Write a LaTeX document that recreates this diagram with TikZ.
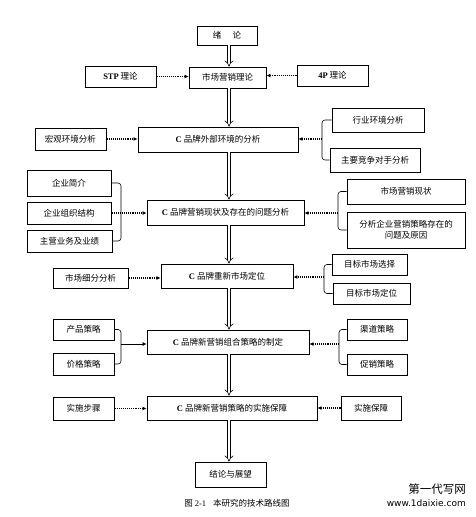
\documentclass[tikz,border=0pt]{standalone}
\usepackage{fontspec}
\setmainfont{Liberation Serif}
\newfontfamily\cjk{Noto Sans CJK SC}
\newfontfamily\wmfont{DejaVu Sans}
\usetikzlibrary{arrows.meta,calc}
\newcommand{\lat}[1]{{\rmfamily\bfseries #1}}
\begin{document}
\begin{tikzpicture}[x=1pt,y=-1pt,
 box/.style={draw, line width=0.9pt, font=\cjk\fontsize{8.5}{11}\selectfont, inner sep=1pt, align=center},
 dbl/.style={double, double distance=2.6pt, line width=0.6pt, -{Implies}},
 dotarr/.style={line width=1.1pt, densely dotted, -{Latex[length=4pt,width=4pt]}},
 brk/.style={line width=0.6pt, rounded corners=3pt},
 solarr/.style={line width=0.6pt, -{Latex[length=4pt,width=4pt]}}]
\useasboundingbox (0,0) rectangle (476,517);
\fill[white] (0,0) rectangle (476,517);

\node[box, minimum width=60, minimum height=19] (xu) at (227,35.5) {绪\hspace{1.3em}论};
\node[box, minimum width=71, minimum height=21] (stp) at (120.5,76.5) {\lat{STP} 理论};
\node[box, minimum width=77, minimum height=21] (sc) at (227.5,77.5) {市场营销理论};
\node[box, minimum width=71, minimum height=21] (fp) at (332.5,75.5) {\lat{4P} 理论};
\node[box, minimum width=92, minimum height=24] (hy) at (378,120) {行业环境分析};
\node[box, minimum width=71, minimum height=22] (hg) at (70.5,139) {宏观环境分析};
\node[box, minimum width=160, minimum height=25] (wb) at (218,139.5) {\lat{C} 品牌外部环境的分析};
\node[box, minimum width=90, minimum height=24] (jz) at (375,160) {主要竞争对手分析};
\node[box, minimum width=84, minimum height=26] (qyjj) at (69,183) {企业简介};
\node[box, minimum width=84, minimum height=22] (zzjg) at (69,213) {企业组织结构};
\node[box, minimum width=85, minimum height=22] (zy) at (69.5,241) {主营业务及业绩};
\node[box, minimum width=157, minimum height=25] (xz) at (225.5,212.5) {\lat{C} 品牌营销现状及存在的问题分析};
\node[box, minimum width=118, minimum height=25] (scxz) at (406,191.5) {市场营销现状};
\node[box, minimum width=118, minimum height=36] (fx) at (406,230) {分析企业营销策略存在的\\问题及原因};
\node[box, minimum width=75, minimum height=20] (xf) at (90.5,278) {市场细分分析};
\node[box, minimum width=132, minimum height=24] (dw) at (227,276) {\lat{C} 品牌重新市场定位};
\node[box, minimum width=75, minimum height=21] (mbxz) at (369.5,264.5) {目标市场选择};
\node[box, minimum width=77, minimum height=21] (mbdw) at (371.5,293.5) {目标市场定位};
\node[box, minimum width=61, minimum height=21] (cp) at (83.5,329.5) {产品策略};
\node[box, minimum width=61, minimum height=22] (jg) at (83.5,364) {价格策略};
\node[box, minimum width=162, minimum height=24] (zh) at (228,342) {\lat{C} 品牌新营销组合策略的制定};
\node[box, minimum width=60, minimum height=21] (qd) at (377,329.5) {渠道策略};
\node[box, minimum width=60, minimum height=21] (cx) at (377,364.5) {促销策略};
\node[box, minimum width=61, minimum height=23] (ss) at (83.5,408.5) {实施步骤};
\node[box, minimum width=170, minimum height=24] (bz) at (232,408) {\lat{C} 品牌新营销策略的实施保障};
\node[box, minimum width=60, minimum height=24] (ssbz) at (371,408) {实施保障};
\node[box, minimum width=71, minimum height=25] (jl) at (230.5,474.5) {结论与展望};

\node[font=\cjk\fontsize{8.5}{10}\selectfont] (cap) at (237,503) {图 {\rmfamily 2-1}\hspace{0.8em}本研究的技术路线图};
\node[font=\cjk\fontsize{11.5}{12}\selectfont, inner sep=0, anchor=east] (wm1) at (466,489) {第一代写网};
\node[font=\wmfont\fontsize{9}{10}\selectfont, inner sep=0, anchor=east] (wm2) at (466,503) {www.1daixie.com};

% spine
\coordinate (sp) at (229,0);
\draw[dbl] (xu.south -| sp) -- (sc.north -| sp);
\draw[dbl] (sc.south -| sp) -- (wb.north -| sp);
\draw[dbl] (wb.south -| sp) -- (xz.north -| sp);
\draw[dbl] (xz.south -| sp) -- (dw.north -| sp);
\draw[dbl] (dw.south -| sp) -- (zh.north -| sp);
\draw[dbl] (zh.south -| sp) -- (bz.north -| sp);
\draw[dbl] (bz.south -| sp) -- (jl.north -| sp);

% side arrows
\draw[dotarr] (stp.east) -- (stp.east -| sc.west);
\draw[dotarr] (fp.west) -- (fp.west -| sc.east);
\draw[dotarr] (hg.east) -- (hg.east -| wb.west);
\draw[dotarr] (xf.east) -- (xf.east -| dw.west);
\draw[dotarr] (ss.east) -- (ss.east -| bz.west);
\draw[dotarr] (ssbz.west) -- (ssbz.west -| bz.east);

% brackets
\coordinate (br1) at (322,139);
\draw[brk] (hy.west) -| (br1) |- (jz.west);
\draw[dotarr] (br1) -- (br1 -| wb.east);

\coordinate (bl1) at (121,213);
\draw[brk] (qyjj.east) -| (bl1) |- (zy.east);
\draw[dotarr] (zzjg.east) -- (zzjg.east -| xz.west);

\coordinate (br2) at (338,213);
\draw[brk] (scxz.west) -| (br2) |- (fx.west);
\draw[dotarr] (br2) -- (br2 -| xz.east);

\coordinate (br3) at (324,277);
\draw[brk] (mbxz.west) -| (br3) |- (mbdw.west);
\draw[dotarr] (br3) -- (br3 -| dw.east);

\coordinate (bl2) at (121,344);
\draw[brk] (cp.east) -| (bl2) |- (jg.east);
\draw[solarr] (bl2) -- (bl2 -| zh.west);

\coordinate (br4) at (339,344);
\draw[brk] (qd.west) -| (br4) |- (cx.west);
\draw[dotarr] (br4) -- (br4 -| zh.east);
\end{tikzpicture}
\end{document}
